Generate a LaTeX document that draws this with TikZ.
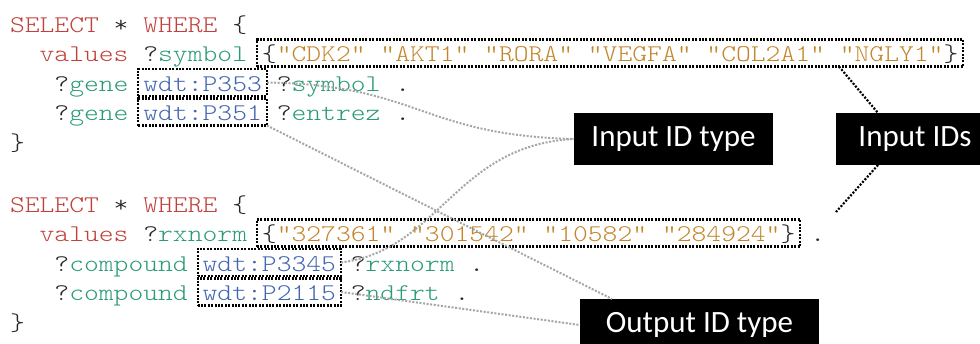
\documentclass[tikz,border=0pt]{standalone}
\usepackage{fontspec}
% light typewriter face, widened to a 14.82pt character cell at 24pt
\setmonofont{lmmonolt10-regular.otf}[FakeStretch=1.176]
\newfontfamily\labelfont{Carlito}
\usetikzlibrary{calc}
\definecolor{kwred}{HTML}{C0403A}
\definecolor{vargreen}{HTML}{2A9A78}
\definecolor{strorange}{HTML}{C4862C}
\definecolor{propblue}{HTML}{4266B0}
\definecolor{linkgray}{HTML}{A6A6A6}
\newcommand\kw[1]{\textcolor{kwred}{#1}}
\newcommand\vr[1]{\textcolor{vargreen}{#1}}
\newcommand\lit[1]{\textcolor{strorange}{#1}}
\newcommand\prop[1]{\textcolor{propblue}{#1}}
% x position of a character column in the code listing
\newcommand\colx[1]{10+#1*14.82}
\begin{document}
\begin{tikzpicture}[x=1pt,y=-1pt,
  code/.style={font=\ttfamily\fontsize{24}{30}\selectfont, anchor=base west,
    inner sep=0pt, outer sep=0pt, text=black!85},
  idbox/.style={code, draw=black, line width=2.2pt, dash pattern=on 2pt off 1.4pt,
    inner xsep=5pt, inner ysep=2.5pt, text height=19.5pt, text depth=2.5pt, xshift=-5pt},
  tag/.style={fill=black, text=white, inner sep=0pt, outer sep=0pt,
    font=\labelfont\fontsize{31}{36}\selectfont, minimum height=52pt},
  graylink/.style={draw=linkgray, line width=2pt, dash pattern=on 2pt off 1.6pt},
  blacklink/.style={draw=black, line width=2.2pt, dash pattern=on 2pt off 1.6pt}]
\useasboundingbox (0,0) rectangle (980,343);
\clip (0,0) rectangle (980,343);

% first query
\node[code] (q1a) at ({\colx{0}},32) {\kw{SELECT} * \kw{WHERE} \{};
\node[code] (q1b) at ({\colx{2}},61.5) {\kw{values} ?\vr{symbol}};
\node[idbox] (boxA) at ({\colx{17}},61.5)
  {\{\lit{"CDK2" "AKT1" "RORA" "VEGFA" "COL2A1" "NGLY1"}\}};
\node[code] (q1c) at ({\colx{3}},91) {?\vr{gene}};
\node[idbox] (boxB) at ({\colx{9}},91) {\prop{wdt:P353}};
\node[code] (q1d) at ({\colx{18}},91) {?\vr{symbol} .};
\node[code] (q1e) at ({\colx{3}},120.5) {?\vr{gene}};
\node[idbox] (boxC) at ({\colx{9}},120.5) {\prop{wdt:P351}};
\node[code] (q1f) at ({\colx{18}},120.5) {?\vr{entrez} .};
\node[code] (q1g) at ({\colx{0}},150) {\}};

% second query
\node[code] (q2a) at ({\colx{0}},212) {\kw{SELECT} * \kw{WHERE} \{};
\node[code] (q2b) at ({\colx{2}},241.5) {\kw{values} ?\vr{rxnorm}};
\node[idbox] (boxD) at ({\colx{17}},241.5)
  {\{\lit{"327361" "301542" "10582" "284924"}\}};
\node[code] (q2c) at ({\colx{54}},241.5) {.};
\node[code] (q2d) at ({\colx{3}},271) {?\vr{compound}};
\node[idbox] (boxE) at ({\colx{13}},271) {\prop{wdt:P3345}};
\node[code] (q2e) at ({\colx{23}},271) {?\vr{rxnorm} .};
\node[code] (q2f) at ({\colx{3}},300.5) {?\vr{compound}};
\node[idbox] (boxF) at ({\colx{13}},300.5) {\prop{wdt:P2115}};
\node[code] (q2g) at ({\colx{23}},300.5) {?\vr{ndfrt} .};
\node[code] (q2h) at ({\colx{0}},330) {\}};

% callout labels
\node[tag, minimum width=199pt] (idtype) at (673.5,139) {Input ID type};
\node[tag, minimum width=158pt] (inputids) at (915,139) {Input IDs};
\node[tag, minimum width=239pt] (outtype) at (699.5,325) {Output ID type};
\coordinate (idsend) at (836,212);

% connectors
\draw[graylink] (boxB.east) .. controls (420,85) and (420,135) .. (idtype.west);
\draw[graylink] (boxE.east) .. controls (440,250) and (455,145) .. (idtype.west);
\draw[graylink] (boxC.south east) -- ([xshift=32pt]outtype.north west);
\draw[graylink] (boxF.east) -- (outtype.west);
\draw[blacklink] ($(boxA.south west)!0.824!(boxA.south east)$) -- ([xshift=42pt]inputids.north west);
\draw[blacklink] ([xshift=42pt]inputids.south west) -- (idsend);
\end{tikzpicture}
\end{document}
